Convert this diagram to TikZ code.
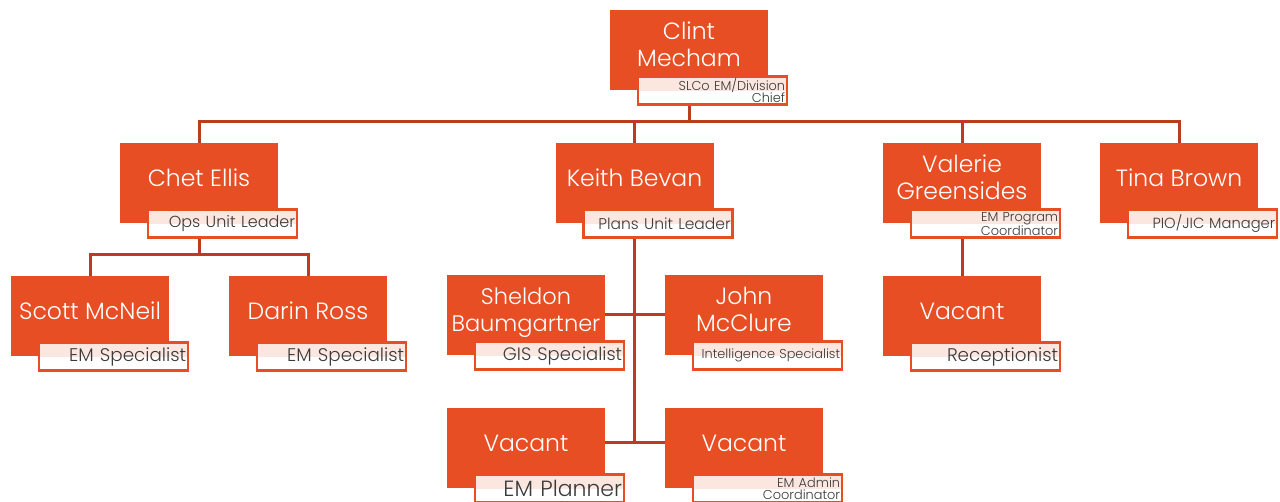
\documentclass[tikz,border=0pt]{standalone}
\usepackage{fontspec}
\setmainfont{Poppins}[UprightFont={* Light}]
\usepackage{tikz}
\usetikzlibrary{positioning}

\definecolor{boxorange}{HTML}{E84E24}
\definecolor{linkred}{HTML}{BC3C22}
\definecolor{rolegray}{HTML}{3A3A3A}
\definecolor{rolepink}{HTML}{FCE6E0}

\newcommand{\fsz}[1]{\fontsize{#1}{#1}\selectfont}
% name text, set a little above the box centre
\newcommand{\who}[1]{\raisebox{2pt}[\height][\depth]{\begin{tabular}{@{}c@{}}#1\end{tabular}}}

\begin{document}
\begin{tikzpicture}[x=1pt, y=-1pt, thick,
    person/.style = {fill=boxorange, text=white, minimum width=158pt, minimum height=80pt, inner sep=1pt,
        font=\fontsize{23.5}{27}\selectfont},
    role/.style = {draw=boxorange, line width=2.5pt, fill=white, minimum width=149pt, minimum height=28pt, text width=145pt,
        inner xsep=2pt, inner ysep=0.5pt, align=right, text=rolegray, font=\fsz{16}, anchor=north east,
        path picture={\fill[rolepink] (path picture bounding box.north west) rectangle (path picture bounding box.east);}},
    small/.style = {font=\fontsize{12.9}{12.4}\selectfont},
    link/.style = {draw=linkred, line width=3pt}]

    \useasboundingbox (0,0) rectangle (1280,502);

    % people
    \node[person] (clint) at (689,50) {\who{Clint\\Mecham}};
    \node[person] (chet) at (199,183) {\who{Chet Ellis}};
    \node[person] (keith) at (634.5,183) {\who{Keith Bevan}};
    \node[person] (valerie) at (962,183) {\who{Valerie\\Greensides}};
    \node[person] (tina) at (1179,183) {\who{Tina Brown}};
    \node[person] (scott) at (90,316) {\who{Scott McNeil}};
    \node[person] (darin) at (308,316) {\who{Darin Ross}};
    \node[person, font=\fontsize{22.5}{27}\selectfont] (sheldon) at (526,315) {\who{Sheldon\\Baumgartner}};
    \node[person] (john) at (744,315) {\who{John\\McClure}};
    \node[person] (vacpl) at (526,448) {\who{Vacant}};
    \node[person] (vacad) at (744,448) {\who{Vacant}};
    \node[person] (vacrec) at (962,316) {\who{Vacant}};

    % connectors
    \coordinate (bus) at (0,122);
    \coordinate (opsbus) at (0,255);
    \draw[link] (clint.south) -- (clint.south |- bus) -| (chet.north);
    \draw[link] (clint.south) -- (clint.south |- bus) -| (keith.north);
    \draw[link] (clint.south) -- (clint.south |- bus) -| (valerie.north);
    \draw[link] (clint.south) -- (clint.south |- bus) -| (tina.north);
    \draw[link] (chet.south) -- (chet.south |- opsbus) -| (scott.north);
    \draw[link] (chet.south) -- (chet.south |- opsbus) -| (darin.north);
    \draw[link] (keith.south) -- ([yshift=5pt]keith.south |- vacpl.east);
    \draw[link] (sheldon.east) -- (john.west);
    \draw[link] ([yshift=5pt]vacpl.east) -- ([yshift=5pt]vacad.west);
    \draw[link] (valerie.south) -- (vacrec.north);

    % titles
    \node[role, small] (clint-r) at ([shift={(20pt,15pt)}]clint.south east) {SLCo EM/Division\\Chief};
    \node[role] (chet-r) at ([shift={(20pt,15pt)}]chet.south east) {Ops Unit Leader};
    \node[role, font=\fsz{15.5}] (keith-r) at ([shift={(20pt,15pt)}]keith.south east) {Plans Unit Leader};
    \node[role, small] (valerie-r) at ([shift={(20pt,15pt)}]valerie.south east) {EM Program\\Coordinator};
    \node[role, font=\fsz{14.7}] (tina-r) at ([shift={(20pt,15pt)}]tina.south east) {PIO/JIC Manager};
    \node[role, font=\fsz{18.3}] (scott-r) at ([shift={(20pt,15pt)}]scott.south east) {EM Specialist};
    \node[role, font=\fsz{18.3}] (darin-r) at ([shift={(20pt,15pt)}]darin.south east) {EM Specialist};
    \node[role, font=\fsz{18}] (sheldon-r) at ([shift={(20pt,15pt)}]sheldon.south east) {GIS Specialist};
    \node[role, small] (john-r) at ([shift={(20pt,15pt)}]john.south east) {Intelligence Specialist};
    \node[role, font=\fsz{22}] (vacpl-r) at ([shift={(20pt,15pt)}]vacpl.south east) {EM Planner};
    \node[role, small] (vacad-r) at ([shift={(20pt,15pt)}]vacad.south east) {EM Admin\\Coordinator};
    \node[role, font=\fsz{18.3}] (vacrec-r) at ([shift={(20pt,15pt)}]vacrec.south east) {Receptionist};

\end{tikzpicture}
\end{document}
